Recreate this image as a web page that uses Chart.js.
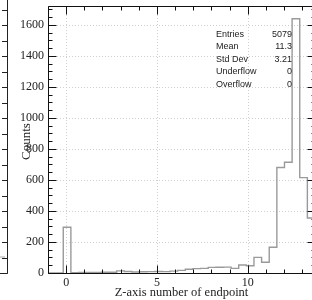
<!DOCTYPE html>
<html><head><meta charset="utf-8">
<script src="https://cdn.jsdelivr.net/npm/chart.js@4.4.0/dist/chart.umd.min.js"></script>
<style>
html,body{margin:0;padding:0;overflow:hidden;background:#fff;width:312px;height:300px;}
#wrap{position:absolute;left:0;top:0;width:320px;height:300px;}
</style></head><body>
<div id="wrap"><canvas id="c"></canvas></div>
<script>
// ---- data ----
const binLow = -1;
const binWidth = 0.42;
const counts = [0,0,295,2,3,3,4,5,5,14,10,6,8,9,10,9,12,17,24,28,30,36,37,38,30,52,47,101,69,166,680,714,1640,615,355];
const xLabels = [0,5,10];
const yLabels = [0,200,400,600,800,1000,1200,1400,1600];
const xTitle = 'Z-axis number of endpoint';
const yTitle = 'Counts';
const statNames = ['Entries','Mean','Std Dev','Underflow','Overflow'];
const statValues = ['5079','11.3','3.21','0','0'];
const yMax = 1722;

const xMax = binLow + counts.length * binWidth;
const points = counts.map((c,k)=>({x: binLow + k*binWidth, y: c}));
points.push({x: xMax, y: 0});

const serif = "'Liberation Serif', 'DejaVu Serif', serif";
const sans = "'Liberation Sans', Arial, sans-serif";

const decor = {
  id: 'decor',
  beforeDatasetsDraw(chart) {
    const {ctx, chartArea: a, scales: {x, y}} = chart;
    ctx.save();
    ctx.strokeStyle = '#cfcfcf';
    ctx.lineWidth = 1;
    ctx.setLineDash([1,2]);
    xLabels.forEach(v => {
      const px = Math.round(x.getPixelForValue(v)) + 0.5;
      ctx.beginPath(); ctx.moveTo(px, a.top); ctx.lineTo(px, a.bottom); ctx.stroke();
    });
    yLabels.forEach(v => {
      if (v === 0) return;
      const py = Math.round(y.getPixelForValue(v)) + 0.5;
      ctx.beginPath(); ctx.moveTo(a.left, py); ctx.lineTo(a.right, py); ctx.stroke();
    });
    ctx.restore();
  },
  afterDatasetsDraw(chart) {
    const {ctx, chartArea: a, scales: {x, y}} = chart;
    ctx.save();
    ctx.strokeStyle = '#111';
    ctx.lineWidth = 1;
    const L = Math.round(a.left) + 0.5, R = Math.round(a.right) + 0.5;
    const T = Math.round(a.top) + 0.5, B = Math.round(a.bottom) + 0.5;
    ctx.beginPath();
    ctx.moveTo(L, T); ctx.lineTo(R, T); ctx.lineTo(R, B); ctx.lineTo(L, B); ctx.closePath();
    ctx.stroke();
    for (let v = Math.ceil(x.min); v <= x.max; v++) {
      const major = v % 5 === 0;
      const len = major ? 8 : 4;
      const px = Math.round(x.getPixelForValue(v)) + 0.5;
      ctx.beginPath();
      ctx.moveTo(px, B); ctx.lineTo(px, B - len);
      ctx.moveTo(px, T); ctx.lineTo(px, T + len);
      ctx.stroke();
    }
    for (let v = 0; v <= y.max; v += 50) {
      const major = v % 200 === 0;
      const len = major ? 8 : 4;
      const py = Math.round(y.getPixelForValue(v)) + 0.5;
      ctx.beginPath();
      ctx.moveTo(L, py); ctx.lineTo(L + len, py);
      ctx.moveTo(R, py); ctx.lineTo(R - len, py);
      ctx.stroke();
    }
    ctx.fillStyle = '#222';
    ctx.font = '9px ' + sans;
    ctx.textBaseline = 'middle';
    statNames.forEach((n, i) => {
      const ty = 34.5 + i * 12.5;
      ctx.textAlign = 'left';
      ctx.fillText(n, 216, ty);
      ctx.textAlign = 'right';
      ctx.fillText(statValues[i], 292, ty);
    });
    ctx.restore();
  },
  afterDraw(chart) {
    const {ctx, chartArea: a} = chart;
    ctx.save();
    ctx.fillStyle = '#222';
    ctx.font = '13px ' + serif;
    ctx.textAlign = 'center';
    ctx.textBaseline = 'middle';
    ctx.translate(27, (a.top + a.bottom) / 2 + 2);
    ctx.rotate(-Math.PI / 2);
    ctx.fillText(yTitle, 0, 0);
    ctx.restore();
    ctx.save();
    ctx.strokeStyle = '#222';
    ctx.lineWidth = 1;
    const B = Math.round(a.bottom) + 0.5;
    ctx.beginPath();
    ctx.moveTo(7.5, 0); ctx.lineTo(7.5, B); ctx.lineTo(0, B);
    for (let py = a.bottom; py > 0; py -= 15.5) {
      const yy = Math.round(py) + 0.5;
      ctx.moveTo(7.5, yy); ctx.lineTo(2, yy);
    }
    ctx.stroke();
    ctx.strokeStyle = '#aaa';
    ctx.beginPath(); ctx.moveTo(0, 257); ctx.lineTo(5, 257); ctx.stroke();
    ctx.restore();
  }
};

new Chart(document.getElementById('c'), {
  type: 'line',
  data: {
    datasets: [{
      data: points,
      stepped: 'before',
      borderColor: '#9a9a9a',
      borderWidth: 1.4,
      pointRadius: 0,
      fill: false,
      tension: 0
    }]
  },
  options: {
    responsive: true,
    maintainAspectRatio: false,
    animation: false,
    events: [],
    layout: {padding: {left: 0, right: 5, top: 6, bottom: 0}},
    plugins: {legend: {display: false}, tooltip: {enabled: false}},
    scales: {
      x: {
        type: 'linear',
        min: binLow, max: xMax,
        grid: {display: false, drawTicks: false},
        border: {display: false},
        ticks: {
          stepSize: 1, autoSkip: false, maxRotation: 0, padding: 3, includeBounds: false,
          color: '#222', font: {family: serif, size: 12},
          callback: v => xLabels.includes(v) ? String(v) : ''
        },
        title: {display: true, text: xTitle, color: '#222', font: {family: serif, size: 12.5}, padding: {top: 0, bottom: 0}},
        afterFit: s => { s.height = 27; s.paddingLeft = 0; s.paddingRight = 0; }
      },
      y: {
        type: 'linear',
        min: 0, max: yMax,
        grid: {display: false, drawTicks: false},
        border: {display: false},
        ticks: {
          stepSize: 200, autoSkip: false, padding: 4, includeBounds: false,
          color: '#222', font: {family: serif, size: 12},
          callback: v => yLabels.includes(v) ? String(v) : ''
        },
        afterFit: s => { s.width = 48; s.paddingTop = 0; s.paddingBottom = 0; }
      }
    }
  },
  plugins: [decor]
});
</script>
</body></html>
